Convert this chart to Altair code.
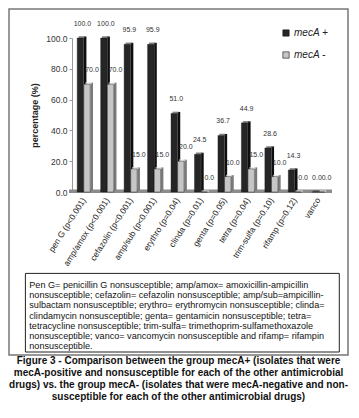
import altair as alt
import pandas as pd

categories = ["pen G (p<0.001)", "amp/amox (p<0.001)", "cefazolin (p<0.001)",
              "amp/sub (p<0.001)", "erythro (p=0.04)", "clinda (p=0.01)",
              "genta (p=0.05)", "tetra (p=0.04)", "trim-sulfa (p=0.10)",
              "rifamp (p=0.12)", "vanco"]
meca_pos = [100.0, 100.0, 95.9, 95.9, 51.0, 24.5, 36.7, 44.9, 28.6, 14.3, 0.0]
meca_neg = [70.0, 70.0, 15.0, 15.0, 20.0, 0.0, 10.0, 15.0, 10.0, 0.0, 0.0]
series_names = ["mecA +", "mecA -"]
y_ticks = [0, 20, 40, 60, 80, 100]

box_lines = [
    "Pen G= penicillin G nonsusceptible; amp/amox= amoxicillin-ampicillin",
    "nonsusceptible; cefazolin= cefazolin nonsusceptible; amp/sub=ampicillin-",
    "sulbactam nonsusceptible; erythro= erythromycin nonsusceptible; clinda=",
    "clindamycin nonsusceptible; genta= gentamicin nonsusceptible; tetra=",
    "tetracycline nonsusceptible; trim-sulfa= trimethoprim-sulfamethoxazole",
    "nonsusceptible; vanco= vancomycin nonsusceptible and rifamp= rifampin",
    "nonsusceptible.",
]
caption_lines = [
    "Figure 3 - Comparison between the group mecA+ (isolates that were",
    "mecA-positive and nonsusceptible for each of the other antimicrobial",
    "drugs) vs. the group mecA- (isolates that were mecA-negative and non-",
    "susceptible for each of the other antimicrobial drugs)",
]

rows = []
for c, p, n in zip(categories, meca_pos, meca_neg):
    rows.append({"cat": c, "series": series_names[0], "value": p})
    rows.append({"cat": c, "series": series_names[1], "value": n})
df = pd.DataFrame(rows)

FONT = "Liberation Sans"
W, H = 258, 154

X = alt.X("cat:N", sort=categories,
          scale=alt.Scale(domain=categories, paddingInner=0, paddingOuter=0),
          axis=alt.Axis(title=None, labelAngle=302, labelAlign="right",
                        labelBaseline="middle", labelFontSize=8.5,
                        labelColor="#222", ticks=False, domain=False,
                        labelPadding=6, labelFont=FONT))
Y = alt.Y("value:Q", scale=alt.Scale(domain=[0, 100], nice=False),
          axis=alt.Axis(title="percentage (%)", values=y_ticks, format=".1f",
                        labelFontSize=8.5, labelColor="#333", labelFont=FONT,
                        tickSize=3, tickColor="#999", domainColor="#999",
                        labelPadding=2, grid=False,
                        titleFontSize=9, titleFontWeight="bold", titleColor="#222",
                        titleFont=FONT, titleAngle=270, titleX=-38, titleY=77,
                        titleAlign="center", titleBaseline="middle"))
C = alt.Color("series:N",
              scale=alt.Scale(domain=series_names, range=["#262626", "#c6c6c6"]),
              legend=alt.Legend(title=None, orient="none", legendX=209, legendY=-10,
                                symbolType="square", symbolSize=40,
                                symbolStrokeColor="#111", symbolStrokeWidth=0.6,
                                labelFontSize=10, labelFontStyle="italic",
                                labelFont=FONT, labelColor="#222",
                                rowPadding=12, labelOffset=3))

one = pd.DataFrame({"k": [0]})

floor = alt.Chart(one).mark_rect(color="#8c8c8c").encode(
    x=alt.value(-3), x2=alt.value(W + 2), y=alt.value(H - 2.5), y2=alt.value(H + 1))

frame = alt.Chart(one).mark_rect(fill="transparent", stroke="#777", strokeWidth=1.5).encode(
    x=alt.value(-63), x2=alt.value(276), y=alt.value(-29), y2=alt.value(317))

box = alt.Chart(one).mark_rect(fill="transparent", stroke="#222", strokeWidth=1).encode(
    x=alt.value(-46.6), x2=alt.value(267.3), y=alt.value(235.4), y2=alt.value(314))


def bar_layers(name, side, top, off, lab_off):
    base = alt.Chart(df).transform_filter(alt.datum.series == name)
    side_l = base.mark_bar(width=2.6, xOffset=off + 4.7, yOffset=-1.5).encode(
        x=X, y=Y, color=alt.value(side))
    top_l = base.mark_tick(orient="horizontal", thickness=1.8, size=6.4,
                           xOffset=off + 1.4, yOffset=-0.9).encode(
        x=X, y=Y, color=alt.value(top))
    front_l = base.mark_bar(width=6.4, xOffset=off, stroke="#111",
                            strokeWidth=0.4).encode(x=X, y=Y, color=C)
    lab = base.mark_text(dy=-14, xOffset=lab_off, fontSize=7,
                         font=FONT).encode(x=X, y=Y, color=alt.value("#333"),
                                           text=alt.Text("value:Q", format=".1f"))
    return [side_l, top_l, front_l, lab]


layers = [frame, box, floor]
layers += bar_layers(series_names[0], "#0e0e0e", "#555555", -3.3, -1.3)
layers += bar_layers(series_names[1], "#7a7a7a", "#e2e2e2", 3.3, 8.3)

for i, line in enumerate(box_lines):
    layers.append(alt.Chart(pd.DataFrame({"t": [line]})).mark_text(
        align="left", baseline="middle", fontSize=9.1, font=FONT
    ).encode(text="t:N", color=alt.value("#111"),
             x=alt.value(-42.7), y=alt.value(247.2 + i * 10.1)))

for i, line in enumerate(caption_lines):
    layers.append(alt.Chart(pd.DataFrame({"t": [line]})).mark_text(
        align="center", baseline="middle", fontSize=10, fontWeight="bold", font=FONT
    ).encode(text="t:N", color=alt.value("#111"),
             x=alt.value(106.5), y=alt.value(322.9 + i * 12.1)))

chart = alt.layer(*layers).properties(
    width=W, height=H,
    autosize=alt.AutoSizeParams(type="none"),
    padding={"left": 64, "top": 30, "right": 19, "bottom": 212},
    background="white",
).configure_view(stroke=None)

chart.save("out.html", embed_options={"renderer": "svg", "actions": False})
